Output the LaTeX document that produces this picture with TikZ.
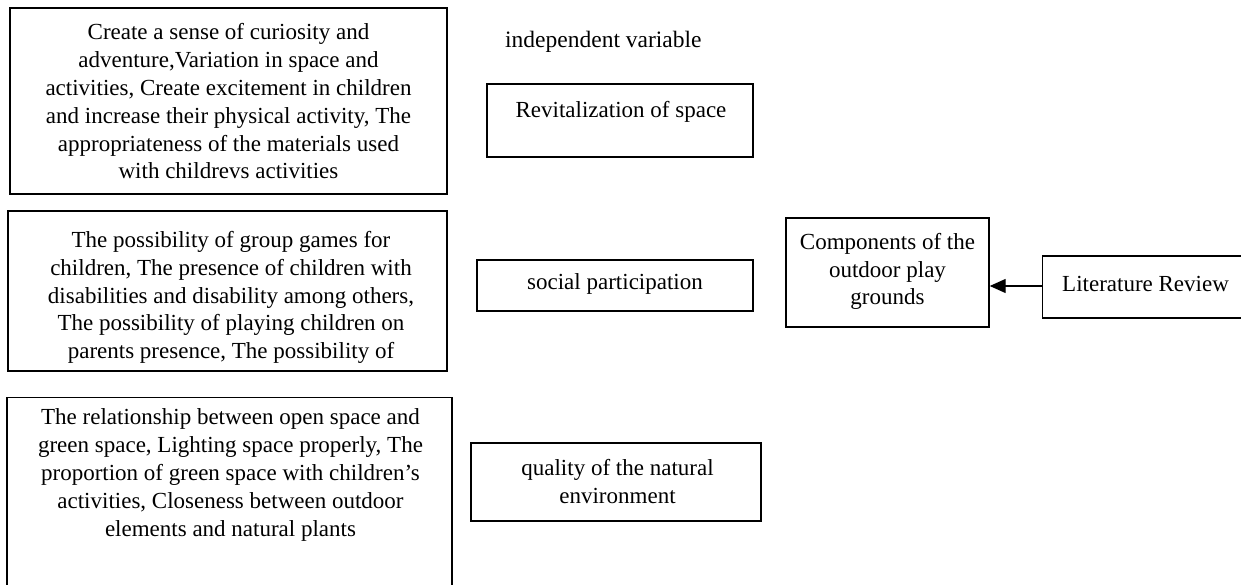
\documentclass[tikz,border=0pt]{standalone}
\usepackage{fontspec}
\setmainfont{Liberation Serif}
\usetikzlibrary{arrows.meta}
\begin{document}
\begin{tikzpicture}[x=1pt,y=-1pt]
  \tikzset{
    box/.style={draw, line width=1.4pt, inner sep=0pt},
    txt/.style={align=center, inner sep=0pt, font=\fontsize{23}{27.8}\selectfont},
    link/.style={line width=1.3pt, -{Triangle[length=16pt,width=14pt]}}
  }
  \useasboundingbox (0,0) rectangle (1241,585);
  \clip (0,0) rectangle (1241,585);

  % frames of the left column (the third one runs past the lower edge)
  \node[box, minimum width=437pt, minimum height=186pt] (b1) at (228.5,101) {};
  \node[box, minimum width=439pt, minimum height=160pt] (b2) at (227.5,291) {};
  \node[box, minimum width=445pt, minimum height=230pt, anchor=north] (b3) at (229.5,397) {};

  % frames of the middle column
  \node[box, minimum width=266pt, minimum height=73pt] (revit) at (620,120.5) {};
  \node[box, minimum width=276pt, minimum height=51pt] (social) at (615,285.5) {};
  \node[box, minimum width=290pt, minimum height=78pt] (nature) at (616,482) {};

  % frames on the right
  \node[box, minimum width=203pt, minimum height=109pt] (comp) at (887.5,272.5) {};
  \node[box, minimum width=218pt, minimum height=62pt, anchor=west] (lit) at (1042,287) {};

  % texts
  \node[txt, anchor=west, font=\fontsize{23.5}{27.8}\selectfont] (iv) at (505,42) {independent variable};

  \node[txt] (t1) at (228.5,101.5) {Create a sense of curiosity and\\
    adventure,Variation in space and\\
    activities, Create excitement in children\\
    and increase their physical activity, The\\
    appropriateness of the materials used\\
    with childrevs activities};

  \node[txt] (t2) at (231,297.5) {The possibility of group games for\\
    children, The presence of children with\\
    disabilities and disability among others,\\
    The possibility of playing children on\\
    parents presence, The possibility of};

  \node[txt] (t3) at (230.5,475) {The relationship between open space and\\
    green space, Lighting space properly, The\\
    proportion of green space with children's\\
    activities, Closeness between outdoor\\
    elements and natural plants};

  \node[txt] (trevit) at (621,112) {Revitalization of space};
  \node[txt] (tsocial) at (615,284) {social participation};
  \node[txt] (tnature) at (617.5,481.5) {quality of the natural\\environment};
  \node[txt] (tcomp) at (887.5,271.5) {Components of the\\outdoor play\\grounds};
  \node[txt, anchor=west] (tlit) at (1062,284) {Literature Review};

  % connector
  \draw[link] (lit.west |- 0,286) -- (comp.east |- 0,286);
\end{tikzpicture}
\end{document}
